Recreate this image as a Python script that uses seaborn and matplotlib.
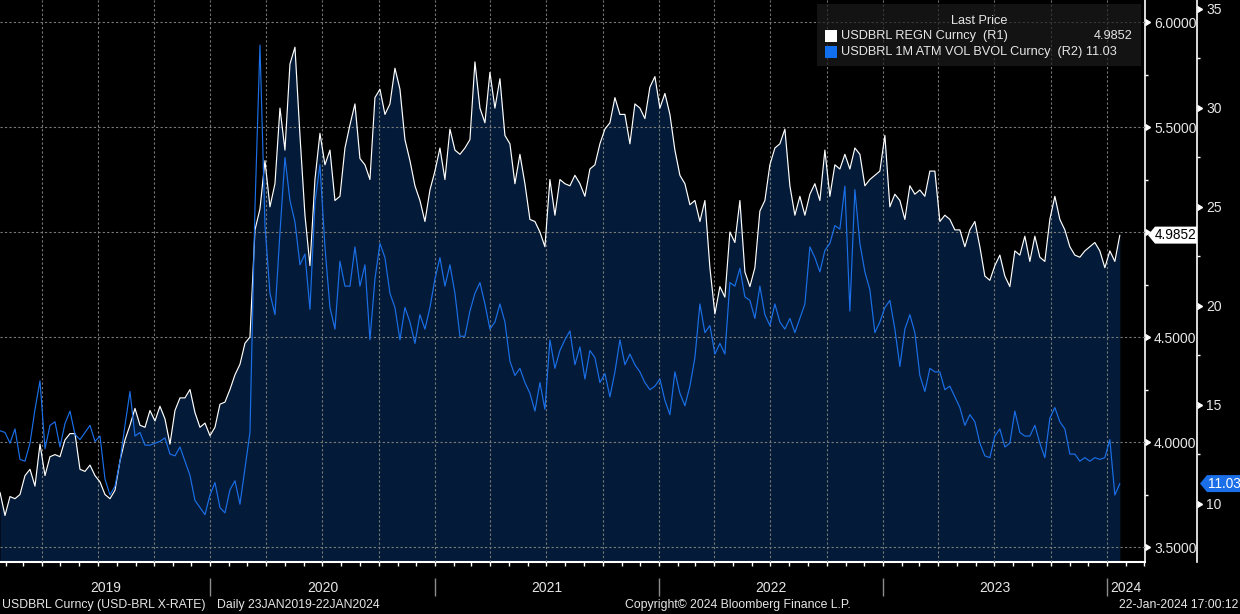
import matplotlib.pyplot as plt
import matplotlib.dates as mdates
import matplotlib.ticker as mticker
from matplotlib.patches import Polygon, Rectangle
import seaborn as sns
import pandas as pd


# USDBRL spot vs 1M ATM vol (about every 8 days)
start_date = "2019-01-23"
end_date = "2024-01-22"

usdbrl = [
    3.76, 3.65, 3.74, 3.73, 3.75, 3.84, 3.87, 3.79, 3.99, 3.84,
    3.93, 3.94, 3.93, 4.01, 4.04, 4.04, 3.87, 3.86, 3.89, 3.84,
    3.81, 3.75, 3.73, 3.77, 3.91, 4.01, 4.08, 4.16, 4.08, 4.07,
    4.15, 4.10, 4.17, 4.11, 3.99, 4.15, 4.21, 4.21, 4.25, 4.14,
    4.07, 4.09, 4.03, 4.07, 4.18, 4.19, 4.25, 4.32, 4.37, 4.47,
    4.50, 5.01, 5.11, 5.34, 5.12, 5.23, 5.59, 5.39, 5.80, 5.88,
    5.46, 5.08, 4.84, 5.25, 5.47, 5.32, 5.39, 5.15, 5.17, 5.40,
    5.51, 5.61, 5.35, 5.32, 5.25, 5.64, 5.68, 5.56, 5.61, 5.78,
    5.68, 5.44, 5.34, 5.22, 5.15, 5.05, 5.20, 5.29, 5.40, 5.25,
    5.49, 5.39, 5.37, 5.40, 5.44, 5.81, 5.59, 5.52, 5.76, 5.59,
    5.73, 5.46, 5.42, 5.23, 5.37, 5.23, 5.06, 5.05, 5.00, 4.93,
    5.25, 5.08, 5.25, 5.23, 5.22, 5.27, 5.23, 5.17, 5.30, 5.32,
    5.42, 5.49, 5.52, 5.64, 5.56, 5.56, 5.42, 5.61, 5.59, 5.54,
    5.69, 5.74, 5.59, 5.66, 5.56, 5.39, 5.27, 5.23, 5.13, 5.15,
    5.05, 5.15, 4.83, 4.61, 4.74, 4.69, 5.00, 4.95, 5.15, 4.81,
    4.74, 4.83, 5.10, 5.15, 5.32, 5.40, 5.42, 5.49, 5.22, 5.08,
    5.17, 5.08, 5.18, 5.23, 5.15, 5.39, 5.17, 5.32, 5.30, 5.37,
    5.30, 5.40, 5.37, 5.22, 5.25, 5.27, 5.29, 5.46, 5.12, 5.18,
    5.15, 5.06, 5.22, 5.18, 5.20, 5.17, 5.29, 5.29, 5.05, 5.08,
    5.06, 5.01, 5.01, 4.93, 5.01, 5.05, 4.93, 4.79, 4.77, 4.84,
    4.89, 4.79, 4.74, 4.91, 4.89, 4.98, 4.86, 4.98, 4.88, 4.86,
    5.06, 5.17, 5.06, 5.01, 4.93, 4.89, 4.88, 4.91, 4.93, 4.95,
    4.91, 4.83, 4.91, 4.86, 4.9852,
]

vol_1m = [
    13.70, 13.61, 13.07, 13.79, 12.25, 12.16, 13.07, 14.78, 16.22, 12.79,
    13.97, 14.15, 12.88, 14.06, 14.69, 13.52, 13.25, 13.61, 13.97, 13.16,
    13.43, 11.26, 10.45, 10.90, 12.16, 13.97, 15.68, 13.43, 13.61, 12.97,
    12.97, 13.07, 13.16, 13.34, 12.52, 12.43, 12.88, 12.16, 11.44, 10.18,
    9.82, 9.46, 10.45, 11.08, 9.82, 9.55, 10.72, 11.17, 9.99, 11.80,
    13.61, 24.96, 33.17, 24.06, 20.64, 19.56, 23.70, 27.49, 25.33, 24.24,
    22.08, 22.62, 19.83, 25.24, 27.13, 22.98, 19.92, 18.83, 22.26, 21.00,
    21.00, 22.98, 21.00, 22.08, 18.29, 21.36, 23.16, 22.44, 20.64, 19.92,
    18.29, 19.92, 19.19, 18.11, 19.56, 18.83, 19.92, 21.36, 22.44, 21.00,
    22.08, 20.64, 18.47, 18.47, 19.74, 20.64, 21.18, 20.10, 18.83, 19.19,
    20.10, 19.19, 17.21, 16.49, 16.85, 16.13, 15.59, 14.69, 16.13, 14.78,
    18.29, 16.85, 17.75, 18.29, 18.74, 17.03, 17.93, 16.31, 17.75, 17.39,
    16.13, 16.58, 15.41, 16.67, 18.29, 17.03, 17.57, 17.03, 16.67, 16.13,
    15.77, 15.95, 16.31, 15.23, 14.51, 16.67, 15.59, 14.96, 15.95, 17.39,
    20.10, 18.65, 19.01, 17.57, 18.11, 17.57, 21.18, 21.00, 21.90, 20.46,
    20.28, 19.37, 21.00, 19.56, 19.01, 20.10, 19.19, 18.83, 19.37, 18.65,
    19.37, 20.10, 22.98, 22.44, 21.72, 22.80, 23.16, 24.06, 23.88, 26.05,
    19.74, 25.87, 23.16, 21.72, 20.82, 18.65, 19.19, 19.92, 20.28, 18.83,
    16.94, 18.83, 19.56, 18.65, 16.49, 15.68, 16.85, 16.67, 16.67, 15.77,
    15.95, 15.41, 14.87, 13.97, 14.51, 14.15, 13.07, 12.43, 12.34, 13.43,
    13.79, 12.88, 13.07, 14.69, 13.61, 13.43, 13.43, 13.97, 13.07, 12.34,
    14.33, 14.87, 14.15, 13.79, 12.52, 12.52, 12.16, 12.34, 12.16, 12.34,
    12.25, 12.34, 13.25, 10.45, 11.03,
]

price_ticks = [3.5, 4.0, 4.5, 5.0, 5.5, 6.0]
vol_ticks = [10, 15, 20, 25, 30, 35]
years = [2019, 2020, 2021, 2022, 2023, 2024]

price_name = "USDBRL REGN Curncy  (R1)"
vol_name = "USDBRL 1M ATM VOL BVOL Curncy  (R2)"

dates = pd.date_range(start_date, end_date, periods=len(usdbrl))
df = pd.DataFrame({"date": dates, "usdbrl": usdbrl, "vol": vol_1m})

NAVY = "#031b38"
BLUE = "#1a6fe8"
TXT = "#e6e6e6"
GRID = "#7a7a7a"

sns.set_theme(style="dark", rc={"axes.facecolor": "black", "figure.facecolor": "black"})
plt.rcParams["font.family"] = ["Liberation Sans", "DejaVu Sans"]

W, H = 1240, 614
fig = plt.figure(figsize=(W / 100, H / 100), dpi=100, facecolor="black")
ax = fig.add_axes([0, 52 / H, 1145 / W, 562 / H])
ax.set_facecolor("black")

p_lo, p_hi = 3.4286, 6.1048
v_lo, v_hi = 7.07, 35.45
x_lo, x_hi = pd.Timestamp(start_date), pd.Timestamp("2024-03-03")

# area under spot + white spot line
ax.fill_between(df["date"], df["usdbrl"], p_lo, color=NAVY, lw=0, zorder=1)
sns.lineplot(data=df, x="date", y="usdbrl", ax=ax, color="white", lw=0.85, zorder=3, legend=False)
ax.set_xlim(x_lo, x_hi)
ax.set_ylim(p_lo, p_hi)

# vol on second right axis
ax2 = ax.twinx()
sns.lineplot(data=df, x="date", y="vol", ax=ax2, color=BLUE, lw=0.85, legend=False)
ax2.set_ylim(v_lo, v_hi)
ax2.set_xlim(x_lo, x_hi)

for a in (ax, ax2):
    a.set_xlabel("")
    a.set_ylabel("")
    for s in ("top", "left"):
        a.spines[s].set_visible(False)
    a.spines["right"].set_color("white")
    a.spines["right"].set_linewidth(1.2)
ax.spines["bottom"].set_color("white")
ax.spines["bottom"].set_linewidth(1.5)
ax2.spines["bottom"].set_visible(False)
ax2.spines["right"].set_position(("outward", 52 * 0.72))

# right axis ticks
ax.yaxis.tick_right()
ax.yaxis.set_major_locator(mticker.FixedLocator(price_ticks))
ax.yaxis.set_major_formatter(mticker.FuncFormatter(lambda v, p: f"{v:.4f}"))
ax.yaxis.set_minor_locator(mticker.FixedLocator([t + 0.25 for t in price_ticks]))
ax2.yaxis.set_major_locator(mticker.FixedLocator(vol_ticks))
ax2.yaxis.set_major_formatter(mticker.FuncFormatter(lambda v, p: f"{v:.0f}"))
ax2.yaxis.set_minor_locator(mticker.FixedLocator([t + 2.5 for t in vol_ticks]))
for a in (ax, ax2):
    a.tick_params(axis="y", which="major", length=0, pad=6.5, labelsize=10, labelcolor=TXT)
    a.tick_params(axis="y", which="minor", length=2.5, width=1, color="white", direction="out")

# bloomberg style triangles on the major ticks
ax.plot([1.0] * len(price_ticks), price_ticks, transform=ax.get_yaxis_transform(),
        marker=9, ms=5, ls="none", color="white", clip_on=False, zorder=5)
ax2.plot([1.0 + 52 / 1145] * len(vol_ticks), vol_ticks, transform=ax2.get_yaxis_transform(),
         marker=9, ms=5, ls="none", color="white", clip_on=False, zorder=5)

# x axis: quarterly grid, monthly ticks, no labels
ax.xaxis.set_major_locator(mdates.MonthLocator(bymonth=[1, 4, 7, 10]))
ax.xaxis.set_minor_locator(mdates.MonthLocator())
ax.tick_params(axis="x", which="both", length=3, width=1, color="white", direction="out",
               labelbottom=False, bottom=True)
ax2.tick_params(axis="x", which="both", length=0, labelbottom=False)

ax.set_axisbelow(False)
ax.grid(True, which="major", color=GRID, ls=(0, (2, 2)), lw=0.8, zorder=2)
ax2.grid(False)

# year labels and separators
for yr in years:
    s = max(pd.Timestamp(yr, 1, 1), x_lo)
    e = min(pd.Timestamp(yr + 1, 1, 1), x_hi)
    ax.annotate(str(yr), xy=(s + (e - s) / 2, 0), xycoords=("data", "axes fraction"),
                xytext=(0, -26 * 0.72), textcoords="offset points", ha="center", va="center",
                color=TXT, fontsize=10, annotation_clip=False)
    if yr > years[0]:
        ax.vlines(pd.Timestamp(yr, 1, 1), -16 / 562, -34 / 562, transform=ax.get_xaxis_transform(),
                  color="#8c8c8c", lw=1, clip_on=False)

# footer
fy = (H - 605) / H
fig.text(2 / W, fy, "USDBRL Curncy (USD-BRL X-RATE)", color=TXT, fontsize=8.8, va="center")
fig.text(217 / W, fy, "Daily 23JAN2019-22JAN2024", color=TXT, fontsize=8.8, va="center")
fig.text(625 / W, fy, "Copyright\u00a9 2024 Bloomberg Finance L.P.", color=TXT, fontsize=8.8, va="center")
fig.text(1238 / W, fy, "22-Jan-2024 17:00:12", color=TXT, fontsize=8.8, va="center", ha="right")

# legend box (semi transparent, grid shows through)
fig.add_artist(Rectangle((817 / W, 1 - 66 / H), 324 / W, 62 / H, transform=fig.transFigure,
                         facecolor="#1c1c1c", edgecolor="none", alpha=0.7, zorder=5))
fig.text(979 / W, 1 - 21 / H, "Last Price", color=TXT, fontsize=9.2, ha="center", va="center", zorder=6)
for row_y, col, name, val, vx in [(36, "white", price_name, f"{usdbrl[-1]:.4f}", 1133),
                                  (52, "#0f6fee", vol_name, f"{vol_1m[-1]:.2f}", None)]:
    fig.add_artist(Rectangle((825 / W, 1 - (row_y + 6) / H), 12 / W, 12 / H, transform=fig.transFigure,
                             facecolor=col, edgecolor="none", zorder=6))
    label = name if vx else f"{name} {val}"
    fig.text(841 / W, 1 - row_y / H, label, color=TXT, fontsize=9.2, va="center", zorder=6)
    if vx:
        fig.text(vx / W, 1 - row_y / H, val, color=TXT, fontsize=9.2, va="center", ha="right", zorder=6)

# last value tags on the axes
fig.canvas.draw()
yp = ax.transData.transform((mdates.date2num(x_lo), usdbrl[-1]))[1]
yv = ax2.transData.transform((mdates.date2num(x_lo), vol_1m[-1]))[1]


def tag(x0, x1, yc, face, text, tcol):
    h = 8.5
    pts = [(x0, yc), (x0 + 7, yc + h), (x1, yc + h), (x1, yc - h), (x0 + 7, yc - h)]
    fig.add_artist(Polygon([(px / W, py / H) for px, py in pts], closed=True,
                           transform=fig.transFigure, facecolor=face, edgecolor="none", zorder=7))
    fig.text((x0 + 7 + x1) / 2 / W, yc / H, text, color=tcol, fontsize=9.8,
             ha="center", va="center", zorder=8)


tag(1148, 1197, yp, "white", f"{usdbrl[-1]:.4f}", "black")
tag(1200, 1242, yv, BLUE, f"{vol_1m[-1]:.2f}", "white")

fig.savefig("out.png", dpi=100, facecolor="black")
